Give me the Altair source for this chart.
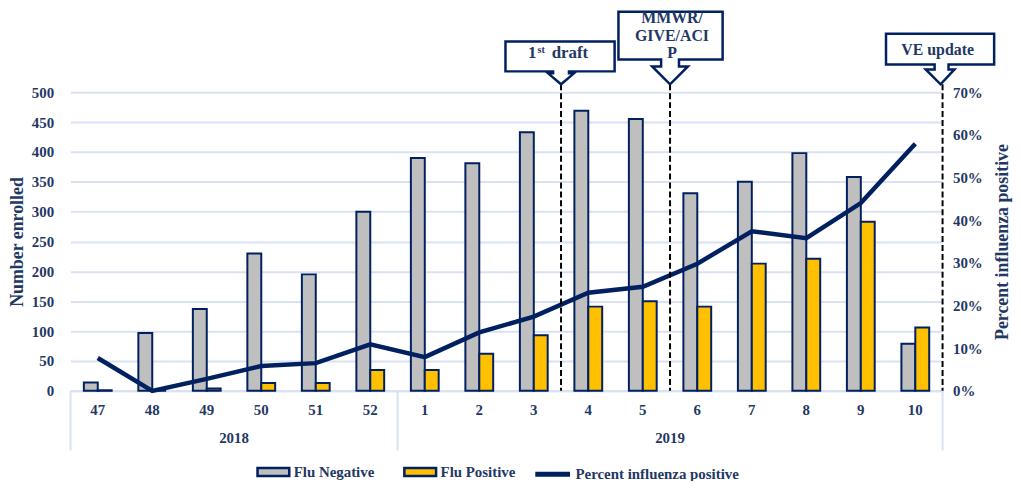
import altair as alt
import pandas as pd

# ---------------- data ----------------
weeks = ["47", "48", "49", "50", "51", "52", "1", "2", "3", "4", "5", "6", "7", "8", "9", "10"]
years = ["2018"] * 6 + ["2019"] * 10
flu_negative = [14, 97, 137, 230, 195, 300, 390, 381, 433, 469, 455, 331, 350, 398, 358, 79]
flu_positive = [1, 0, 4, 13, 13, 35, 35, 62, 93, 141, 150, 141, 213, 221, 283, 106]
pct_positive = [7.7, 0.0, 2.8, 5.8, 6.5, 10.9, 7.9, 13.7, 17.4, 23.0, 24.4, 29.8, 37.4, 35.8, 44.0, 57.9]

series_names = ["Flu Negative", "Flu Positive"]
line_name = "Percent influenza positive"

year_labels = ["2018", "2019"]
year_label_weeks = ["50", "6"]      # year label sits at the start of this week's band
group_start_weeks = ["47", "1"]
group_end_weeks = ["10"]
event_start_weeks = ["4", "6"]      # dashed markers at the start of these weeks
event_end_weeks = ["10"]            # dashed marker at the end of this week

# ---------------- style ----------------
NAVY = "#002060"
TEXT = "#1F3864"
GRID = "#D9E1F2"
GRAY = "#BFBFBF"
GOLD = "#FFC000"
FONT = "Liberation Serif"
W, H = 879, 301

bars_df = pd.DataFrame({
    "week": weeks * 2,
    "series": [series_names[0]] * len(weeks) + [series_names[1]] * len(weeks),
    "value": flu_negative + flu_positive,
})
line_df = pd.DataFrame({"week": weeks, "pct": [p / 100 for p in pct_positive], "series": line_name})

xscale = alt.Scale(domain=weeks, paddingInner=0, paddingOuter=0)
x_axis = alt.Axis(title=None, ticks=False, domainColor=GRID, domainWidth=2, labelPadding=12,
                  labelFont=FONT, labelFontWeight="bold", labelFontSize=15, labelColor=TEXT,
                  labelAngle=0, grid=False)


def xenc(bp=None):
    if bp is None:
        return alt.X("week:N", scale=xscale, axis=x_axis)
    return alt.X("week:N", scale=xscale, axis=x_axis, bandPosition=bp)


bars = alt.Chart(bars_df).mark_bar(stroke=NAVY, strokeWidth=2).encode(
    x=xenc(),
    xOffset=alt.XOffset("series:N", scale=alt.Scale(domain=series_names, paddingInner=0, paddingOuter=0.96)),
    y=alt.Y("value:Q", scale=alt.Scale(domain=[0, 500]),
            axis=alt.Axis(values=list(range(0, 501, 50)), title="Number enrolled",
                          titleFont=FONT, titleFontSize=18, titleFontWeight="bold", titleColor=TEXT,
                          titlePadding=5, labelFont=FONT, labelFontWeight="bold", labelFontSize=15,
                          labelColor=TEXT, labelPadding=17, domain=False, ticks=False,
                          grid=True, gridColor=GRID, gridWidth=2)),
    color=alt.Color("series:N", scale=alt.Scale(domain=series_names, range=[GRAY, GOLD]),
                    legend=alt.Legend(title=None, orient="none", legendX=187, legendY=365,
                                      direction="horizontal", symbolType="M-1,-0.25H1V0.25H-1Z",
                                      symbolSize=1024, symbolStrokeColor=NAVY, symbolStrokeWidth=2.5,
                                      symbolOpacity=1, labelFont=FONT, labelFontWeight="bold",
                                      labelFontSize=15, labelColor=TEXT, labelOffset=3,
                                      labelLimit=300, columnPadding=24)),
)

line = alt.Chart(line_df).mark_line(strokeWidth=4.5).encode(
    x=xenc(),
    y=alt.Y("pct:Q", scale=alt.Scale(domain=[0, 0.7]),
            axis=alt.Axis(orient="right", format=".0%", values=[0, 0.1, 0.2, 0.3, 0.4, 0.5, 0.6, 0.7],
                          title=line_name, titleFont=FONT, titleFontSize=18, titleFontWeight="bold",
                          titleColor=TEXT, titleAngle=270, titleBaseline="top", titlePadding=11,
                          labelFont=FONT, labelFontWeight="bold",
                          labelFontSize=15, labelColor=TEXT, labelPadding=10, domain=False,
                          ticks=False, grid=False)),
    stroke=alt.Stroke("series:N", scale=alt.Scale(domain=[line_name], range=[NAVY]),
                      legend=alt.Legend(title=None, orient="none", legendX=466, legendY=365,
                                        symbolType="stroke", symbolSize=1225, symbolStrokeWidth=5,
                                        labelFont=FONT, labelFontWeight="bold", labelFontSize=15,
                                        labelColor=TEXT, labelOffset=3, labelLimit=300)),
)

# group separators of the two-level category axis
sep_start = alt.Chart(pd.DataFrame({"week": group_start_weeks})).mark_rule(color=GRID, strokeWidth=2).encode(
    x=xenc(0), y=alt.value(H), y2=alt.value(H + 60))
sep_end = alt.Chart(pd.DataFrame({"week": group_end_weeks})).mark_rule(color=GRID, strokeWidth=2).encode(
    x=xenc(1), y=alt.value(H), y2=alt.value(H + 60))

year_text = alt.Chart(pd.DataFrame({"week": year_label_weeks, "year": year_labels})).mark_text(
    font=FONT, fontWeight="bold", fontSize=15, color=TEXT, baseline="middle").encode(
    x=xenc(0), y=alt.value(H + 48), text="year:N")

# dashed event markers
dash_start = alt.Chart(pd.DataFrame({"week": event_start_weeks})).mark_rule(
    color="black", strokeWidth=2, strokeDash=[6, 3]).encode(x=xenc(0), y=alt.value(-8), y2=alt.value(H))
dash_end = alt.Chart(pd.DataFrame({"week": event_end_weeks})).mark_rule(
    color="black", strokeWidth=2, strokeDash=[6, 3]).encode(x=xenc(1), y=alt.value(-8), y2=alt.value(H))

PATH1 = "M-56,-43H54V-13H8V-11H13L0,0L-13,-11H-8V-13H-56Z"
PATH2 = "M-52,-73H53V-25H9V-18H18L0,0L-18,-18H-9V-25H-52Z"
PATH3 = "M-57,-51H52V-20H6V-15H12L-2,0L-17,-15H-8V-20H-57Z"


def callout(week, bp, path):
    return alt.Chart(pd.DataFrame({"week": [week]})).mark_point(
        shape=path, size=4, filled=True, fill="white", stroke=NAVY, strokeWidth=2.5, opacity=1
    ).encode(x=xenc(bp), y=alt.value(-8))


def label(week, bp, text, y, dx, size=16, **kw):
    return alt.Chart(pd.DataFrame({"week": [week]})).mark_text(
        text=text, font=FONT, fontWeight="bold", fontSize=size, color=TEXT, dx=dx,
        baseline="alphabetic", **kw
    ).encode(x=xenc(bp), y=alt.value(y))


c1 = callout(event_start_weeks[0], 0, PATH1)
c2 = callout(event_start_weeks[1], 0, PATH2)
c3 = callout(event_end_weeks[0], 1, PATH3)
t1a = label(event_start_weeks[0], 0, "1", -34, -29, size=17)
t1b = label(event_start_weeks[0], 0, "st", -40, -20, size=10)
t1c = label(event_start_weeks[0], 0, "draft", -34, 9, size=17)
t2 = label(event_start_weeks[1], 0, ["MMWR/", "GIVE/ACI", "P"], -70, 2, lineHeight=18)
t3 = label(event_end_weeks[0], 1, "VE update", -38, -5)

chart = alt.layer(
    bars, sep_start, sep_end, year_text, line, dash_start, dash_end,
    c1, c2, c3, t1a, t1b, t1c, t2, t3
).resolve_scale(y="independent", color="independent", stroke="independent").properties(
    width=W, height=H,
    autosize=alt.AutoSizeParams(type="none"),
    padding={"left": 63, "top": 83, "right": 71, "bottom": 89},
).configure_view(stroke=None)

chart.save("out.html", embed_options={"renderer": "svg", "actions": False})
